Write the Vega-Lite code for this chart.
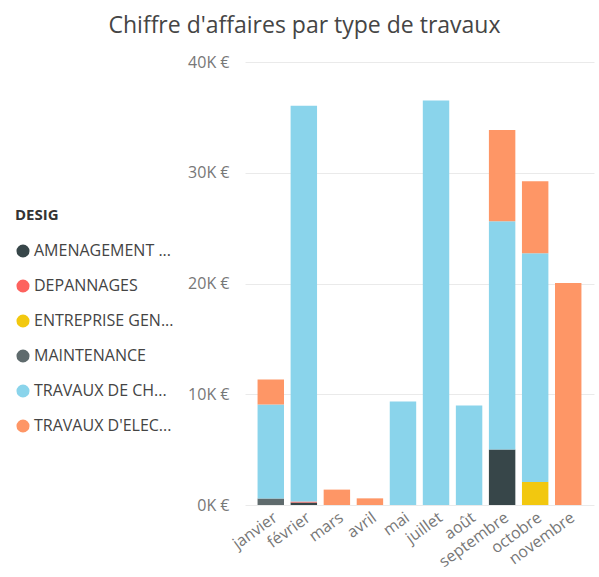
{
  "$schema": "https://vega.github.io/schema/vega-lite/v6.json",
  "autosize": "none",
  "width": 349,
  "height": 443,
  "padding": {"left": 245, "top": 62, "right": 5, "bottom": 72},
  "background": "white",
  "title": {
    "text": "Chiffre d'affaires par type de travaux",
    "anchor": "middle",
    "frame": "bounds",
    "font": "Open Sans",
    "fontSize": 23,
    "fontWeight": "normal",
    "color": "#454545",
    "offset": 16
  },
  "data": {
    "values": [
      {"mois": "janvier", "DESIG": "MAINTENANCE", "montant": 580},
      {"mois": "janvier", "DESIG": "TRAVAUX DE CH...", "montant": 8500},
      {"mois": "janvier", "DESIG": "TRAVAUX D'ELEC...", "montant": 2260},
      {"mois": "février", "DESIG": "AMENAGEMENT ...", "montant": 220},
      {"mois": "février", "DESIG": "DEPANNAGES", "montant": 90},
      {"mois": "février", "DESIG": "TRAVAUX DE CH...", "montant": 35740},
      {"mois": "mars", "DESIG": "TRAVAUX D'ELEC...", "montant": 1390},
      {"mois": "avril", "DESIG": "TRAVAUX D'ELEC...", "montant": 600},
      {"mois": "mai", "DESIG": "TRAVAUX DE CH...", "montant": 9350},
      {"mois": "juillet", "DESIG": "TRAVAUX DE CH...", "montant": 36530},
      {"mois": "août", "DESIG": "TRAVAUX DE CH...", "montant": 8990},
      {"mois": "septembre", "DESIG": "AMENAGEMENT ...", "montant": 5010},
      {"mois": "septembre", "DESIG": "TRAVAUX DE CH...", "montant": 20620},
      {"mois": "septembre", "DESIG": "TRAVAUX D'ELEC...", "montant": 8220},
      {"mois": "octobre", "DESIG": "ENTREPRISE GEN...", "montant": 2080},
      {"mois": "octobre", "DESIG": "TRAVAUX DE CH...", "montant": 20650},
      {"mois": "octobre", "DESIG": "TRAVAUX D'ELEC...", "montant": 6510},
      {"mois": "novembre", "DESIG": "TRAVAUX D'ELEC...", "montant": 20050}
    ]
  },
  "transform": [
    {"calculate": "indexof(['AMENAGEMENT ...', 'DEPANNAGES', 'ENTREPRISE GEN...', 'MAINTENANCE', 'TRAVAUX DE CH...', \"TRAVAUX D'ELEC...\"], datum.DESIG)", "as": "rang"}
  ],
  "mark": {"type": "bar"},
  "encoding": {
    "x": {
      "field": "mois",
      "type": "nominal",
      "sort": ["janvier", "février", "mars", "avril", "mai", "juillet", "août", "septembre", "octobre", "novembre"],
      "scale": {"paddingInner": 0.2, "paddingOuter": 0.38},
      "axis": {
        "title": null,
        "labelAngle": -36,
        "labelAlign": "right",
        "labelBaseline": "top",
        "labelPadding": 4,
        "labelFont": "Open Sans",
        "labelFontSize": 16,
        "labelColor": "#777777",
        "domain": false,
        "ticks": false,
        "grid": false
      }
    },
    "y": {
      "field": "montant",
      "type": "quantitative",
      "aggregate": "sum",
      "stack": "zero",
      "scale": {"domain": [0, 40000], "nice": false},
      "axis": {
        "title": null,
        "values": [0, 10000, 20000, 30000, 40000],
        "labelExpr": "format(datum.value / 1000, 'd') + 'K €'",
        "labelFont": "Open Sans",
        "labelFontSize": 16,
        "labelColor": "#777777",
        "labelPadding": 16,
        "tickSize": 0,
        "ticks": false,
        "domain": false,
        "grid": true,
        "gridColor": "#EAEAEA",
        "gridWidth": 1
      }
    },
    "order": {"field": "rang", "type": "quantitative", "sort": "ascending"},
    "color": {
      "field": "DESIG",
      "type": "nominal",
      "scale": {
        "domain": ["AMENAGEMENT ...", "DEPANNAGES", "ENTREPRISE GEN...", "MAINTENANCE", "TRAVAUX DE CH...", "TRAVAUX D'ELEC..."],
        "range": ["#374649", "#FD625E", "#F2C80F", "#5F6B6D", "#8AD4EB", "#FE9666"]
      },
      "legend": {
        "title": "DESIG",
        "orient": "none",
        "legendX": -230,
        "legendY": 146,
        "symbolType": "circle",
        "symbolSize": 170,
        "symbolStrokeWidth": 0,
        "symbolOpacity": 1,
        "titleFont": "Open Sans",
        "titleFontSize": 15,
        "titleFontWeight": "bold",
        "titleColor": "#333333",
        "titlePadding": 20,
        "labelFont": "Open Sans",
        "labelFontSize": 16,
        "labelColor": "#444444",
        "labelOffset": 3,
        "labelLimit": 200,
        "rowPadding": 19
      }
    }
  },
  "config": {
    "view": {"stroke": null}
  }
}
